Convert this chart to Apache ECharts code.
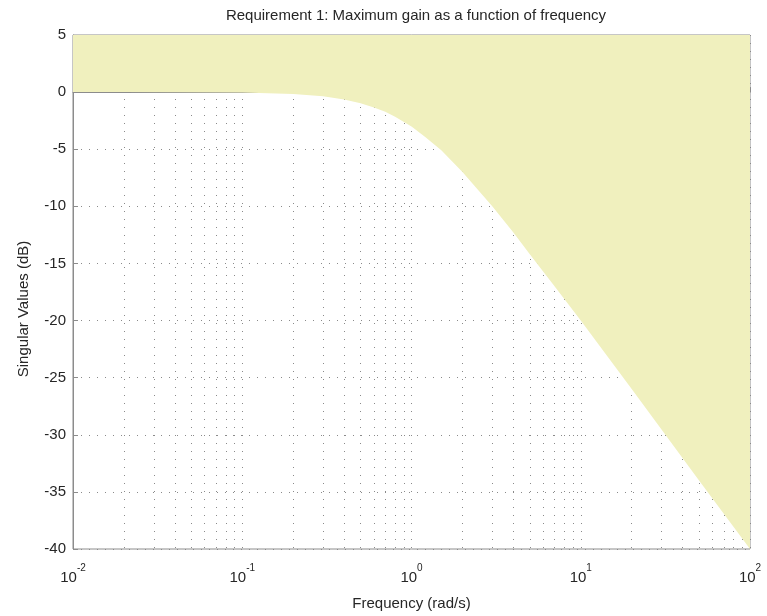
<!DOCTYPE html>
<html>
<head>
<meta charset="utf-8">
<script src="https://cdn.jsdelivr.net/npm/echarts@6/dist/echarts.min.js"></script>
<style>html,body{margin:0;padding:0;background:#fff}#c{width:767px;height:616px}</style>
</head>
<body>
<div id="c"></div>
<script>
// Frequency (rad/s) and the gain bound (dB)
var freqs = [0.01, 0.02, 0.05, 0.1, 0.2, 0.3, 0.4, 0.5, 0.6, 0.7, 0.8, 1, 1.2, 1.5, 2, 3, 4, 5, 7, 10, 20, 50, 100];
var gainBound = [0, 0, -0.01, -0.04, -0.17, -0.37, -0.64, -0.97, -1.34, -1.73, -2.15, -3.0, -3.9, -5.1, -7.0, -10.0, -12.3, -14.2, -17.0, -20.0, -26.0, -34.0, -40.0];
var decadeTicks = [0.01, 0.1, 1, 10, 100];
var decadeExponents = ['-2', '-1', '0', '1', '2'];
var minorMultipliers = [2, 3, 4, 5, 6, 7, 8, 9];
var allTicks = [];
decadeTicks.forEach(function (d, i) {
  allTicks.push(d);
  if (i < decadeTicks.length - 1) minorMultipliers.forEach(function (k) { allTicks.push(+(d * k).toPrecision(3)); });
});

var txt = '#262626';
var gridGray = '#8a8a8a';
var axisGray = '#8c8c8c';
var FONT = 'Liberation Sans';
var chart = echarts.init(document.getElementById('c'), null, {renderer: 'canvas'});
chart.setOption({
  animation: false,
  title: {
    text: 'Requirement 1: Maximum gain as a function of frequency',
    left: 411, top: 3, textAlign: 'center',
    textStyle: {fontFamily: FONT, fontSize: 15, fontWeight: 'normal', color: txt}
  },
  grid: {left: 73, top: 35, right: 17, bottom: 66, show: true, borderColor: axisGray, borderWidth: 1, backgroundColor: 'transparent'},
  xAxis: {
    type: 'log', logBase: 10, min: 0.01, max: 100,
    name: 'Frequency (rad/s)', nameLocation: 'middle', nameGap: 47,
    nameTextStyle: {fontFamily: FONT, fontSize: 15, color: txt},
    axisLine: {lineStyle: {color: axisGray}},
    axisTick: {inside: true, length: 5, lineStyle: {color: axisGray}, customValues: allTicks},
    axisLabel: {
      margin: 14, color: txt, customValues: decadeTicks,
      formatter: function (v) {
        var i = decadeTicks.findIndex(function (d) { return Math.abs(d - v) / d < 1e-6; });
        return '{b|10}{s|' + decadeExponents[i] + '}';
      },
      rich: {
        b: {fontFamily: FONT, fontSize: 15, color: txt, lineHeight: 22, verticalAlign: 'bottom'},
        s: {fontFamily: FONT, fontSize: 10, color: txt, lineHeight: 12, verticalAlign: 'top'}
      }
    },
    splitLine: {show: true, lineStyle: {color: gridGray, type: [1, 7], width: 1}}
  },
  yAxis: {
    type: 'value', min: -40, max: 5, interval: 5,
    name: 'Singular Values (dB)', nameLocation: 'middle', nameGap: 42, nameRotate: 90,
    nameTextStyle: {fontFamily: FONT, fontSize: 15, color: txt, padding: [0, 34, 0, 0]},
    axisLine: {show: true, lineStyle: {color: axisGray}},
    axisTick: {show: true, inside: true, length: 5, lineStyle: {color: axisGray}},
    axisLabel: {fontFamily: FONT, fontSize: 15, color: txt, margin: 7},
    splitLine: {show: true, lineStyle: {color: gridGray, type: [1, 7], width: 1}}
  },
  series: [
    {
      type: 'line', z: 3, silent: true, symbol: 'none',
      data: freqs.map(function (f, i) { return [f, gainBound[i]]; }),
      lineStyle: {width: 0, color: '#F0F0BE'},
      areaStyle: {origin: 'end', color: '#F0F0BE', opacity: 1}
    }
  ]
});
</script>
</body>
</html>
